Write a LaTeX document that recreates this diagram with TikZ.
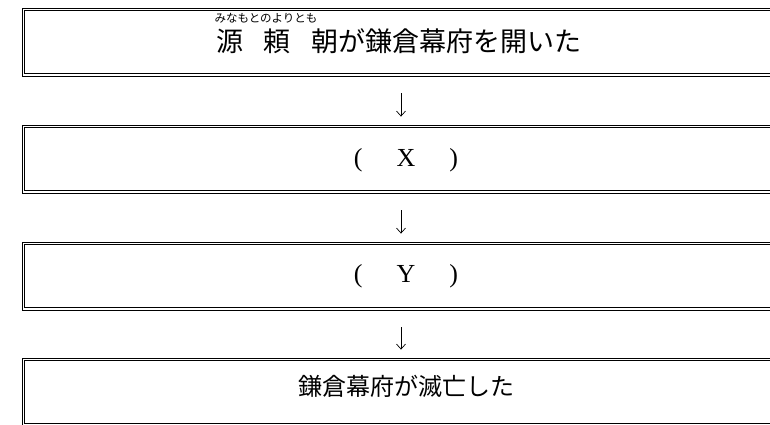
\documentclass[tikz,border=0pt]{standalone}
\usepackage{fontspec}
\setmainfont{Liberation Serif}
\newfontfamily\jpfont{Noto Sans CJK JP}
\usetikzlibrary{arrows.meta}

\begin{document}
\begin{tikzpicture}[x=1pt,y=1pt]
              \tikzstyle{every node}+=[inner sep=0pt]
              \tikzstyle{frame}=[draw=black, line width=0.8pt, minimum width=758pt, minimum height=68pt]
              \tikzstyle{inner frame}=[black, line width=1.4pt]
              \tikzstyle{flow}=[black, line width=0.7pt, -{Straight Barb[length=5pt,width=9pt]}, shorten <=17pt, shorten >=8pt]
              \useasboundingbox (0,0) rectangle (770,424);
              \clip (0,0) rectangle (770,424);
              \node [frame] (b1) at (401,382) {};
              \node [frame] (b2) at (401,265) {};
              \node [frame] (b3) at (401,148) {};
              \node [frame] (b4) at (401,32) {};
              \foreach \n in {b1,b2,b3,b4}
                \draw [inner frame] ([shift={(3,-3)}]\n.north west) rectangle ([shift={(-3,3)}]\n.south east);
              \node (t1) at (399,383) {\jpfont\fontsize{27}{27}\selectfont 源\hspace{21pt}頼\hspace{21pt}朝が鎌倉幕府を開いた};
              \node (r1) at (266,406) {\jpfont\fontsize{11.5}{11.5}\selectfont みなもとのよりとも};
              \node (t2) at (406,264) {\fontsize{26}{26}\selectfont (\hspace{34pt}X\hspace{34pt})};
              \node (t3) at (406,148) {\fontsize{26}{26}\selectfont (\hspace{34pt}Y\hspace{34pt})};
              \node (t4) at (406,38) {\jpfont\fontsize{24}{24}\selectfont 鎌倉幕府が滅亡した};
              \draw [flow] (b1.south) -- (b2.north);
              \draw [flow] (b2.south) -- (b3.north);
              \draw [flow] (b3.south) -- (b4.north);
            \end{tikzpicture}
\end{document}
